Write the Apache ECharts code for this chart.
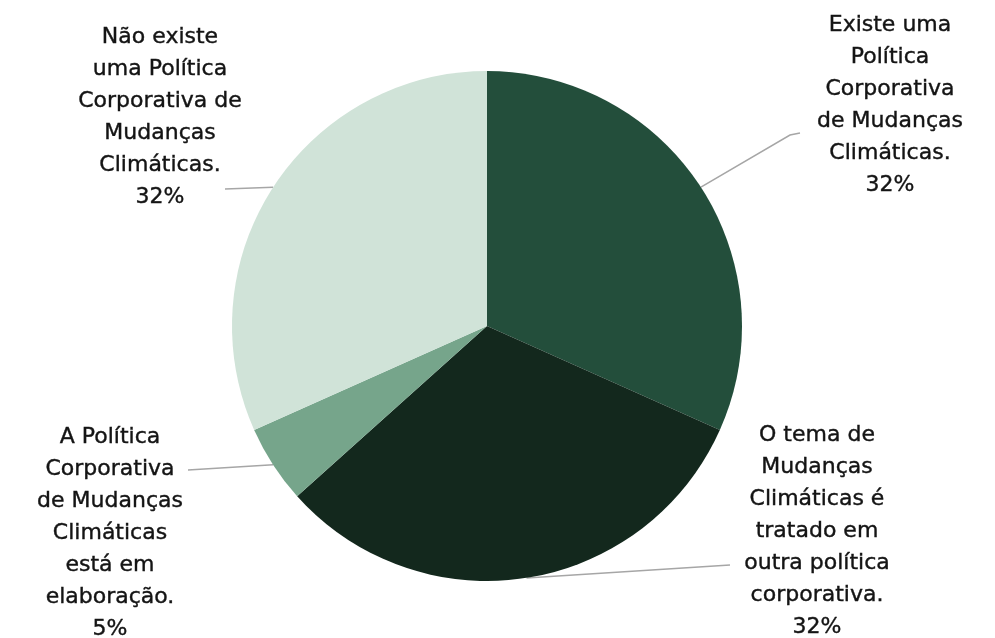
<!DOCTYPE html>
<html>
<head>
<meta charset="utf-8">
<script src="https://cdn.jsdelivr.net/npm/echarts@6/dist/echarts.min.js"></script>
<style>
  html, body { margin: 0; padding: 0; background: #fff; }
  #chart { width: 995px; height: 638px; }
</style>
</head>
<body>
<div id="chart"></div>
<script>
  // slices, clockwise from 12 o'clock
  const categories = [
    'Existe uma\nPolítica\nCorporativa\nde Mudanças\nClimáticas.',
    'O tema de\nMudanças\nClimáticas é\ntratado em\noutra política\ncorporativa.',
    'A Política\nCorporativa\nde Mudanças\nClimáticas\nestá em\nelaboração.',
    'Não existe\numa Política\nCorporativa de\nMudanças\nClimáticas.'
  ];
  const percents = [32, 32, 5, 32];
  const colors = ['#234e3b', '#13281d', '#76a58b', '#d0e3d8'];

  // where each label block sits and where its leader line ends
  const labelSpots = [
    { x: 890, y: 105, line: [[790, 135], [800, 133]] },
    { x: 817, y: 531, line: [[730, 565]] },
    { x: 110, y: 533, line: [[188, 470]] },
    { x: 160, y: 117, line: [[225, 189]] }
  ];

  const chart = echarts.init(document.getElementById('chart'));

  const option = {
    animation: false,
    series: [
      {
        type: 'pie',
        center: [487, 326],
        radius: [0, 255],
        startAngle: 90,
        clockwise: true,
        data: percents.map((v, i) => ({
          name: categories[i],
          value: v,
          itemStyle: { color: colors[i] }
        })),
        itemStyle: { borderWidth: 0 },
        label: {
          show: true,
          position: 'outside',
          formatter: (p) => p.name + '\n' + p.value + '%',
          color: '#141414',
          fontFamily: 'DejaVu Sans',
          fontSize: 22,
          lineHeight: 32,
          align: 'center',
          textBorderColor: '#141414',
          textBorderWidth: 0.4
        },
        labelLine: {
          show: true,
          lineStyle: { color: '#a6a6a6', width: 1.5 }
        },
        labelLayout: (params) => {
          const spot = labelSpots[params.dataIndex];
          const start = params.labelLinePoints ? params.labelLinePoints[0] : null;
          const out = {
            x: spot.x,
            y: spot.y,
            align: 'center',
            verticalAlign: 'middle'
          };
          if (start) {
            out.labelLinePoints = [start].concat(spot.line.length === 1 ? [spot.line[0], spot.line[0]] : spot.line);
          }
          return out;
        }
      }
    ]
  };

  chart.setOption(option);
</script>
</body>
</html>
